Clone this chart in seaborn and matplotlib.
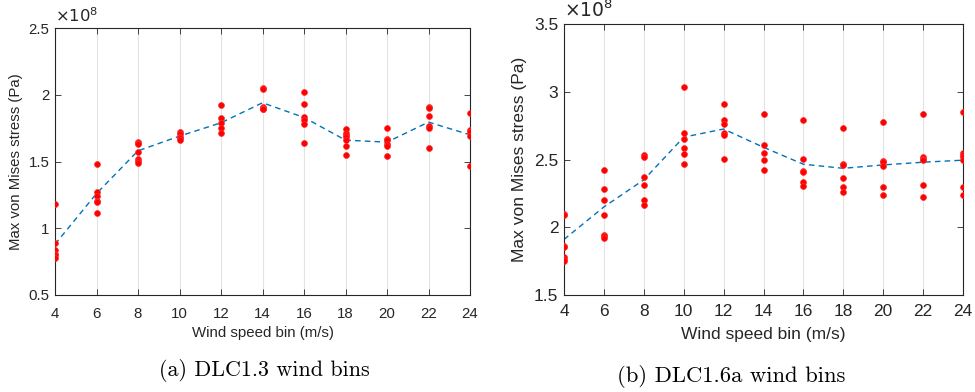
import numpy as np
import pandas as pd
import matplotlib
matplotlib.use("Agg")
import matplotlib.pyplot as plt
from matplotlib.ticker import FuncFormatter
import seaborn as sns

# Wind speed bins (m/s)
wind_bins = [4, 6, 8, 10, 12, 14, 16, 18, 20, 22, 24]

# DLC1.3: max von Mises stress per seed (x1e8 Pa)
dlc13_stress = [
    [1.18, 0.89, 0.84, 0.81, 0.80, 0.78],
    [1.483, 1.272, 1.242, 1.202, 1.197, 1.114],
    [1.648, 1.636, 1.629, 1.571, 1.516, 1.501, 1.491],
    [1.719, 1.704, 1.686, 1.674, 1.661],
    [1.923, 1.826, 1.791, 1.753, 1.716],
    [2.053, 2.045, 1.905, 1.900, 1.895, 1.893],
    [2.021, 1.933, 1.831, 1.811, 1.783, 1.636],
    [1.743, 1.716, 1.699, 1.686, 1.661, 1.618, 1.549],
    [1.749, 1.671, 1.661, 1.629, 1.618, 1.541],
    [1.911, 1.903, 1.839, 1.766, 1.751, 1.603],
    [1.866, 1.736, 1.719, 1.693, 1.469],
]
dlc13_mean = [0.88, 1.26, 1.58, 1.69, 1.79, 1.94, 1.83, 1.66, 1.645, 1.795, 1.70]

# DLC1.6a: max von Mises stress per seed (x1e8 Pa)
dlc16a_stress = [
    [2.101, 2.091, 1.864, 1.857, 1.779, 1.764, 1.751],
    [2.426, 2.281, 2.202, 2.091, 1.943, 1.934, 1.923],
    [2.532, 2.522, 2.372, 2.311, 2.204, 2.165],
    [3.035, 2.692, 2.650, 2.588, 2.537, 2.470],
    [2.911, 2.793, 2.761, 2.699, 2.682, 2.507],
    [2.837, 2.606, 2.551, 2.495, 2.421],
    [2.788, 2.505, 2.418, 2.409, 2.337, 2.308],
    [2.729, 2.470, 2.460, 2.362, 2.300, 2.259],
    [2.776, 2.490, 2.478, 2.455, 2.300, 2.237],
    [2.835, 2.517, 2.505, 2.497, 2.310, 2.222],
    [2.850, 2.547, 2.534, 2.522, 2.495, 2.296, 2.241],
]
dlc16a_mean = [1.91, 2.15, 2.35, 2.665, 2.725, 2.59, 2.465, 2.435, 2.46, 2.48, 2.495]

panel_captions = ["(a) DLC1.3 wind bins", "(b) DLC1.6a wind bins"]
x_label = "Wind speed bin (m/s)"
y_label = "Max von Mises stress (Pa)"
y_limits = [(0.5, 2.5), (1.5, 3.5)]
y_ticks = [[0.5, 1, 1.5, 2, 2.5], [1.5, 2, 2.5, 3, 3.5]]

SCALE = 1e8
plt.rcParams["font.family"] = ["Liberation Sans", "DejaVu Sans"]


def to_frames(stress, mean):
    pts = pd.DataFrame(
        [(w, v * SCALE) for w, vals in zip(wind_bins, stress) for v in vals],
        columns=["wind", "stress"],
    )
    avg = pd.DataFrame({"wind": wind_bins, "stress": np.array(mean) * SCALE})
    return pts, avg


fig = plt.figure(figsize=(9.75, 3.92), dpi=100)
axes_rects = [
    [55 / 975, 1 - 295 / 392, (470 - 55) / 975, (295 - 28) / 392],
    [564 / 975, 1 - 295 / 392, (963 - 564) / 975, (295 - 24) / 392],
]
font_sizes = [10.8, 12.5]
tick_pads = [9, 6.5]
xlabel_pads = [3, 5.5]
ylabel_pads = [4, 5]
caption_sizes = [15.9, 16.3]
datasets = [(dlc13_stress, dlc13_mean), (dlc16a_stress, dlc16a_mean)]
caption_pos = [(264 / 975, 1 - 370 / 392), (731 / 975, 1 - 377 / 392)]

for i, (rect, (stress, mean)) in enumerate(zip(axes_rects, datasets)):
    ax = fig.add_axes(rect)
    fs = font_sizes[i]
    pts, avg = to_frames(stress, mean)
    ax.grid(False)
    for w in wind_bins:
        ax.axvline(w * 1.0, color="#e3e3e3", lw=0.8, zorder=0)
    sns.lineplot(data=avg, x="wind", y="stress", ax=ax, color="#0072BD",
                 lw=1.0, linestyle=(0, (4, 3)), zorder=2)
    sns.scatterplot(data=pts, x="wind", y="stress", ax=ax, color="#ff0000",
                    s=18, edgecolor="#ff3030", linewidth=0.5, zorder=3)
    ax.set_xlim(4, 24)
    ax.set_ylim(y_limits[i][0] * SCALE, y_limits[i][1] * SCALE)
    ax.set_xticks(wind_bins)
    ax.set_yticks([t * SCALE for t in y_ticks[i]])
    ax.yaxis.set_major_formatter(FuncFormatter(lambda v, p: f"{v / SCALE:g}"))
    ax.tick_params(direction="in", top=True, right=True, length=4,
                   width=0.6, labelsize=fs, colors="#262626", pad=4)
    ax.tick_params(axis="x", pad=tick_pads[i])
    for sp in ax.spines.values():
        sp.set_color("#262626")
        sp.set_linewidth(0.8)
    ax.set_xlabel(x_label, fontsize=fs, color="#262626", labelpad=xlabel_pads[i])
    ax.set_ylabel(y_label, fontsize=fs, color="#262626", labelpad=ylabel_pads[i])
    ax.text(0.0, 1.01, r"$\times10^{8}$", transform=ax.transAxes,
            fontsize=fs + 1, color="#262626", ha="left", va="bottom",
            math_fontfamily="dejavusans")
    fig.text(caption_pos[i][0], caption_pos[i][1], panel_captions[i],
             family="cmr10", fontsize=caption_sizes[i], ha="center", va="center")

fig.savefig("out.png", dpi=100, facecolor="white")
